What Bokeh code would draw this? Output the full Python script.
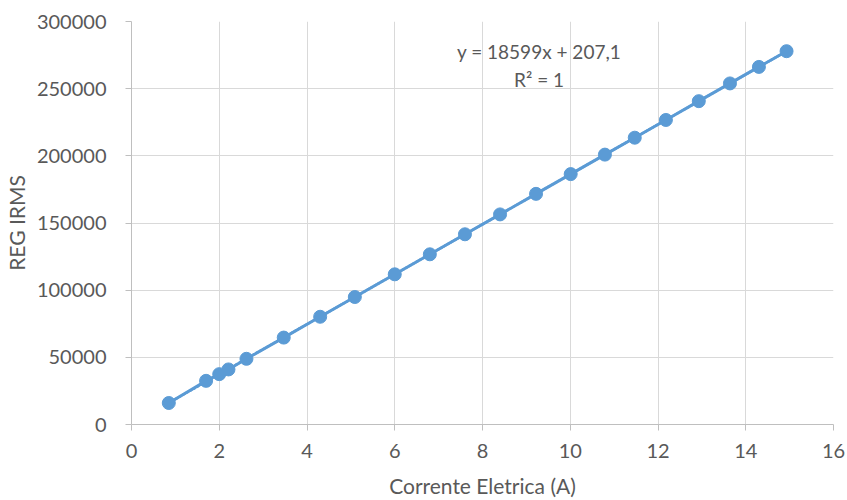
from bokeh.plotting import figure
from bokeh.models import FixedTicker, NumeralTickFormatter, Range1d, ColumnDataSource
from bokeh.core.properties import value
from bokeh.embed import file_html
from bokeh.resources import INLINE
import numpy as np

corrente = [0.85, 1.70, 2.00, 2.21, 2.62, 3.47, 4.30, 5.09, 6.00, 6.80, 7.60,
            8.40, 9.22, 10.01, 10.79, 11.47, 12.18, 12.93, 13.64, 14.30, 14.93]
reg_irms = [16000, 32500, 37500, 41000, 48900, 64700, 80200, 94900, 111800, 126700, 141600,
            156400, 171700, 186400, 200900, 213500, 226700, 240700, 253900, 266200, 277900]
x_ticks = [0, 2, 4, 6, 8, 10, 12, 14, 16]
y_ticks = [0, 50000, 100000, 150000, 200000, 250000, 300000]
eq_text = "y = 18599x + 207,1"
r2_text = "R² = 1"

FONT = "Lato"
TXT = "#595959"
BLUE = "#5b9bd5"

p = figure(width=847, height=500, output_backend="svg", toolbar_location=None,
           x_range=Range1d(0, 16), y_range=Range1d(0, 300000),
           min_border_left=129, min_border_right=14, min_border_top=21, min_border_bottom=76)
p.outline_line_color = None
p.background_fill_color = "white"
p.border_fill_color = "white"

p.xaxis.ticker = FixedTicker(ticks=x_ticks)
p.yaxis.ticker = FixedTicker(ticks=y_ticks)
p.yaxis.formatter = NumeralTickFormatter(format="0")
p.xaxis.formatter = NumeralTickFormatter(format="0")

for ax in (p.xaxis[0], p.yaxis[0]):
    ax.axis_line_color = "#bfbfbf"
    ax.major_tick_line_color = "#bfbfbf"
    ax.minor_tick_line_color = None
    ax.major_tick_in = 0
    ax.major_tick_out = 6
    ax.major_label_text_font = FONT
    ax.major_label_text_font_size = "20px"
    ax.major_label_text_color = TXT
    ax.axis_label_text_font = FONT
    ax.axis_label_text_font_size = "21px"
    ax.axis_label_text_color = TXT
    ax.axis_label_text_font_style = "normal"

p.xaxis.axis_label = "Corrente Eletrica (A)"
p.yaxis.axis_label = "REG IRMS"
p.xaxis.major_label_standoff = 13
p.yaxis.major_label_standoff = 19
p.xaxis.axis_label_standoff = 12
p.yaxis.axis_label_standoff = 5

p.xgrid.grid_line_color = "#d9d9d9"
p.ygrid.grid_line_color = "#d9d9d9"

src = ColumnDataSource(dict(x=corrente, y=reg_irms))
p.line("x", "y", source=src, line_color=BLUE, line_width=3)

coef = np.polyfit(corrente, reg_irms, 1)
tx = [min(corrente), max(corrente)]
ty = [coef[0] * t + coef[1] for t in tx]
p.line(tx, ty, line_color=BLUE, line_width=2.5, line_dash="3 1")

p.scatter("x", "y", source=src, size=13, fill_color=BLUE, line_color=BLUE)

p.text(x=[9.29, 9.29], y=[277400, 256500], text=[eq_text, r2_text],
       text_font=value(FONT), text_font_size="19px", text_color=TXT,
       text_align="center", text_baseline="middle")

open("out.html", "w").write(file_html(p, INLINE))
